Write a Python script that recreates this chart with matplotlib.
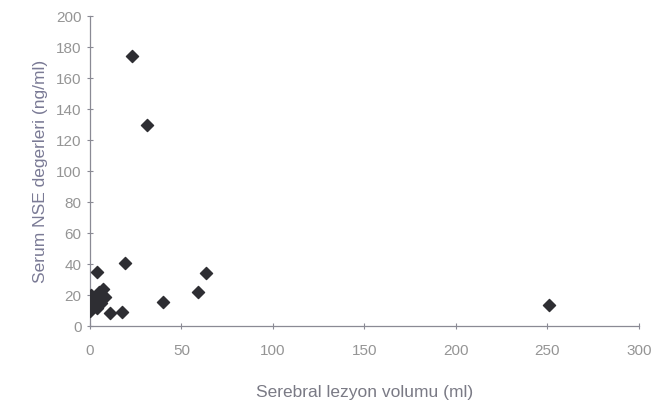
import matplotlib
matplotlib.use("Agg")
import matplotlib.pyplot as plt

volume_ml = [22.8, 31.0, 19.0, 3.6, 63.4, 59.0, 40.0, 251.0, 17.5, 11.0,
             0.0, 1.0, 2.0, 0.5, 3.0, 5.0, 7.0, 8.0, 6.0, 4.0]
nse_ngml = [174.0, 130.0, 41.0, 35.0, 34.0, 22.0, 15.5, 13.5, 9.0, 8.5,
            10.0, 13.0, 17.0, 20.0, 16.0, 22.0, 24.0, 19.0, 15.0, 12.0]
x_ticks = [0, 50, 100, 150, 200, 250, 300]
y_ticks = list(range(0, 201, 20))

plt.rcParams["font.family"] = ["Liberation Sans", "DejaVu Sans"]
fig = plt.figure(figsize=(6.52, 4.15), dpi=100)
ax = fig.add_axes([0.138, 0.214, 0.842, 0.747])
ax.scatter(volume_ml, nse_ngml, marker="D", s=38, color="#2e2e33", zorder=3)
ax.set_xlim(0, 300)
ax.set_ylim(0, 200)
ax.set_xticks(x_ticks)
ax.set_yticks(y_ticks)
for s in ["top", "right"]:
    ax.spines[s].set_visible(False)
for s in ["left", "bottom"]:
    ax.spines[s].set_color("#8a8a94")
    ax.spines[s].set_linewidth(0.9)
ax.tick_params(direction="inout", length=5, color="#8a8a94", labelcolor="#959595", labelsize=11)
ax.tick_params(axis="x", pad=10)
ax.set_xlabel("Serebral lezyon volumu (ml)", color="#7a7a85", fontsize=12.5, labelpad=20)
ax.set_ylabel("Serum NSE degerleri (ng/ml)", color="#7a7a95", fontsize=12.5, labelpad=6)
fig.savefig("out.png", dpi=100)
